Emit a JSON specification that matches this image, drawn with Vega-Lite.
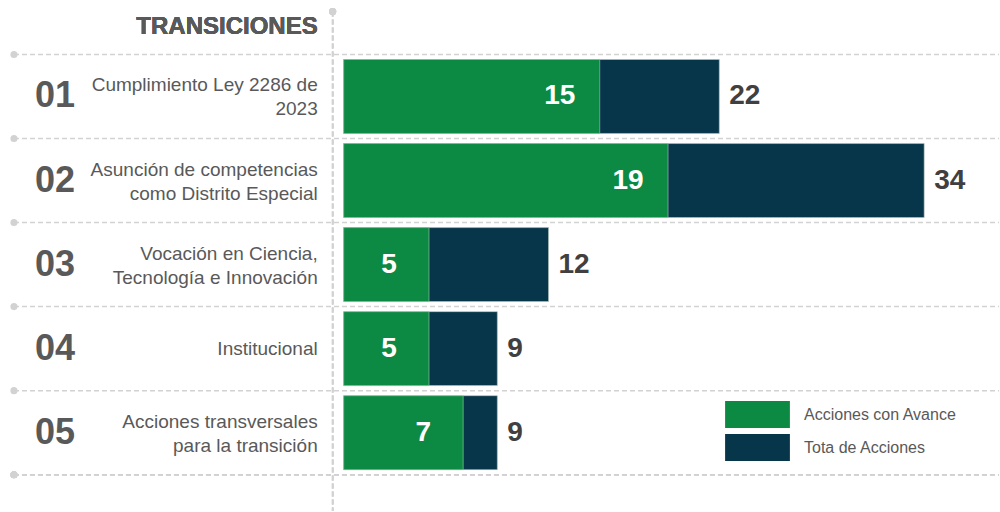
{
  "$schema": "https://vega.github.io/schema/vega-lite/v6.json",
  "width": 1000,
  "height": 512,
  "autosize": {"type": "fit", "contains": "padding"},
  "padding": 0,
  "background": "white",
  "config": {"view": {"stroke": null}, "font": "Liberation Sans"},
  "data": {
    "values": [
      {"id": "01", "label": ["Cumplimiento Ley 2286 de", "2023"], "avance": 15, "total": 22},
      {"id": "02", "label": ["Asunción de competencias", "como Distrito Especial"], "avance": 19, "total": 34},
      {"id": "03", "label": ["Vocación en Ciencia,", "Tecnología e Innovación"], "avance": 5, "total": 12},
      {"id": "04", "label": ["Institucional"], "avance": 5, "total": 9},
      {"id": "05", "label": ["Acciones transversales", "para la transición"], "avance": 7, "total": 9}
    ]
  },
  "layer": [
    {
      "mark": {"type": "rule", "strokeDash": [5, 3], "color": "#d2d2d2", "strokeWidth": 1.5},
      "encoding": {
        "x": {"datum": -19.31, "type": "quantitative", "axis": null, "scale": {"domain": [-20.128, 38.383], "nice": false, "zero": false}},
        "x2": {"datum": 38.383},
        "y": {"field": "id", "type": "nominal", "bandPosition": 0, "axis": null, "scale": {"domain": ["01", "02", "03", "04", "05"], "paddingInner": 0, "paddingOuter": 0.54, "align": 0.6}}
      }
    },
    {
      "mark": {"type": "rule", "strokeDash": [5, 3], "color": "#d2d2d2", "strokeWidth": 1.5},
      "encoding": {
        "x": {"datum": -19.31, "type": "quantitative"},
        "x2": {"datum": 38.383},
        "y": {"datum": "05", "type": "nominal", "bandPosition": 1}
      }
    },
    {
      "mark": {"type": "point", "filled": true, "color": "#d2d2d2", "size": 50, "opacity": 1},
      "encoding": {
        "x": {"datum": -19.31, "type": "quantitative"},
        "y": {"field": "id", "type": "nominal", "bandPosition": 0}
      }
    },
    {
      "mark": {"type": "point", "filled": true, "color": "#d2d2d2", "size": 50, "opacity": 1},
      "encoding": {
        "x": {"datum": -19.31, "type": "quantitative"},
        "y": {"datum": "05", "type": "nominal", "bandPosition": 1}
      }
    },
    {
      "mark": {"type": "rule", "strokeDash": [5, 3], "color": "#d2d2d2", "strokeWidth": 1.5, "yOffset": -43, "y2Offset": 0},
      "encoding": {
        "x": {"datum": -0.644, "type": "quantitative"},
        "y": {"datum": "01", "type": "nominal", "bandPosition": 0},
        "y2": {"value": {"expr": "height"}}
      }
    },
    {
      "mark": {"type": "point", "filled": true, "color": "#d2d2d2", "size": 50, "opacity": 1, "yOffset": -43},
      "encoding": {
        "x": {"datum": -0.644, "type": "quantitative"},
        "y": {"datum": "01", "type": "nominal", "bandPosition": 0}
      }
    },
    {
      "mark": {"type": "bar", "height": {"band": 0.88}, "stroke": "#b5c4bb", "strokeWidth": 0.6},
      "encoding": {
        "x": {"field": "total", "type": "quantitative"},
        "x2": {"datum": 0},
        "y": {"field": "id", "type": "nominal"},
        "color": {"datum": "Tota de Acciones", "type": "nominal"}
      }
    },
    {
      "mark": {"type": "bar", "height": {"band": 0.88}, "stroke": "#b5c4bb", "strokeWidth": 0.6},
      "encoding": {
        "x": {"field": "avance", "type": "quantitative"},
        "x2": {"datum": 0},
        "y": {"field": "id", "type": "nominal"},
        "color": {
          "datum": "Acciones con Avance",
          "type": "nominal",
          "scale": {"domain": ["Acciones con Avance", "Tota de Acciones"], "range": ["#0c8a43", "#07364b"]},
          "legend": {
            "orient": "none",
            "legendX": 744,
            "legendY": 401,
            "title": null,
            "symbolType": "M-2.4,-1L2.4,-1L2.4,1L-2.4,1Z",
            "symbolSize": 729,
            "symbolStrokeWidth": 0,
            "symbolOpacity": 1,
            "labelFontSize": 16,
            "labelColor": "#595959",
            "labelOffset": 33,
            "rowPadding": 6,
            "padding": 0
          }
        }
      }
    },
    {
      "mark": {"type": "text", "align": "center", "baseline": "middle", "dx": -40, "fontSize": 28, "fontWeight": "bold", "color": "white"},
      "encoding": {
        "x": {"field": "avance", "type": "quantitative"},
        "y": {"field": "id", "type": "nominal"},
        "text": {"field": "avance", "type": "quantitative"}
      }
    },
    {
      "mark": {"type": "text", "align": "left", "baseline": "middle", "dx": 10, "fontSize": 28, "fontWeight": "bold", "color": "#404040"},
      "encoding": {
        "x": {"field": "total", "type": "quantitative"},
        "y": {"field": "id", "type": "nominal"},
        "text": {"field": "total", "type": "quantitative"}
      }
    },
    {
      "mark": {"type": "text", "align": "left", "baseline": "middle", "fontSize": 36, "fontWeight": "bold", "color": "#595959"},
      "encoding": {
        "x": {"datum": -18.08, "type": "quantitative"},
        "y": {"field": "id", "type": "nominal"},
        "text": {"field": "id", "type": "nominal"}
      }
    },
    {
      "transform": [{"filter": "length(datum.label) > 1"}],
      "mark": {"type": "text", "align": "right", "baseline": "middle", "fontSize": 19, "lineHeight": 24, "dy": -11, "color": "#595959"},
      "encoding": {
        "x": {"datum": -1.52, "type": "quantitative"},
        "y": {"field": "id", "type": "nominal"},
        "text": {"field": "label"}
      }
    },
    {
      "transform": [{"filter": "length(datum.label) == 1"}],
      "mark": {"type": "text", "align": "right", "baseline": "middle", "fontSize": 19, "color": "#595959"},
      "encoding": {
        "x": {"datum": -1.52, "type": "quantitative"},
        "y": {"field": "id", "type": "nominal"},
        "text": {"field": "label"}
      }
    },
    {
      "mark": {"type": "text", "align": "right", "baseline": "alphabetic", "fontSize": 24, "fontWeight": "bold", "color": "#595959", "dy": -20, "text": "TRANSICIONES"},
      "encoding": {
        "x": {"datum": -1.52, "type": "quantitative"},
        "y": {"datum": "01", "type": "nominal", "bandPosition": 0}
      }
    }
  ]
}
